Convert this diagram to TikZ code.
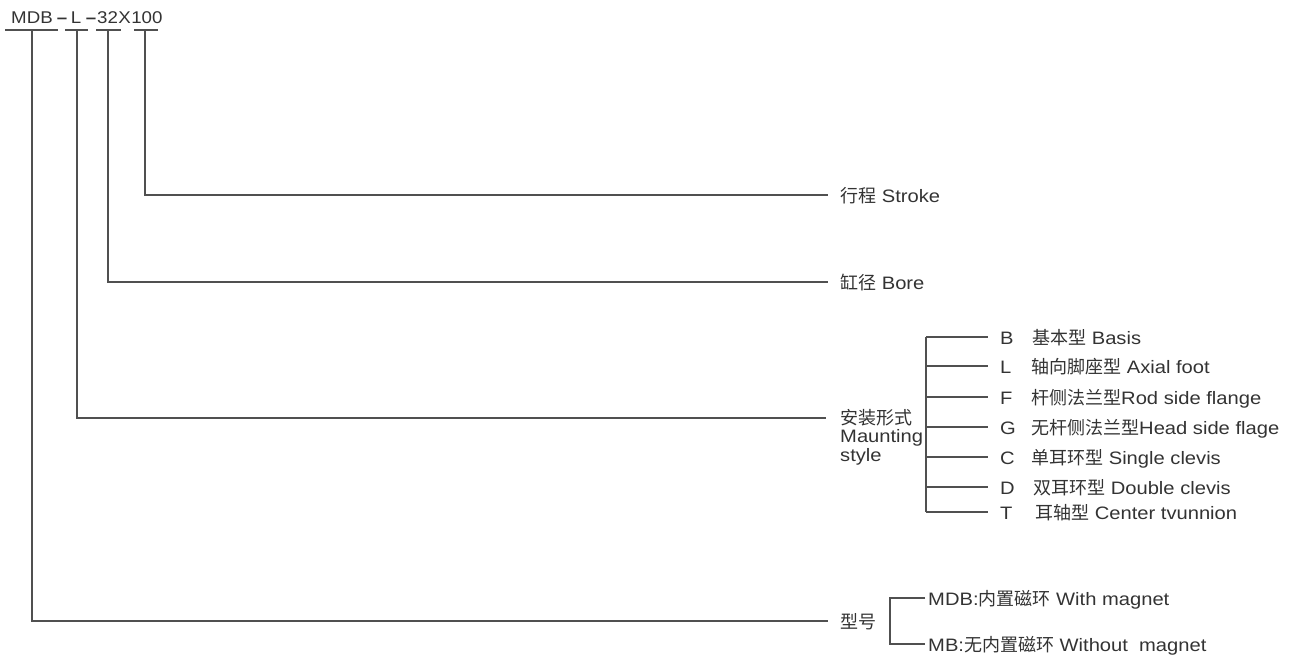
\documentclass[tikz,border=0pt]{standalone}
\usepackage{fontspec}
\setmainfont[FakeStretch=1.12]{Liberation Sans}
\newfontfamily\titlefont[FakeStretch=1.1]{Liberation Sans}
\newfontfamily\cjkfont{Noto Sans CJK SC}
\newcommand\zh[1]{{\cjkfont #1}}
\definecolor{txt}{HTML}{333333}
\definecolor{lnc}{HTML}{505050}
\begin{document}
\begin{tikzpicture}[x=1pt,y=-1pt,
  ln/.style={draw=lnc, line width=1.3pt},
  ttl/.style={anchor=base, inner sep=0pt, text=txt, font=\titlefont\fontsize{17}{17}\selectfont},
  lbl/.style={anchor=base west, inner sep=0pt, text=txt, font=\fontsize{18}{18}\selectfont},
  ml/.style={anchor=north west, inner sep=0pt, text=txt, align=left, font=\fontsize{18}{18.5}\selectfont}
]
\useasboundingbox (0,0) rectangle (1301,654);
% title
\node[ttl] (tm) at (32,23) {MDB};
\node[ttl] (d1) at (62,23) {\textbf{–}};
\node[ttl] (tl) at (76,23) {L};
\node[ttl] (d2) at (91,23) {\textbf{–}};
\node[ttl, anchor=base west] (tb) at (97,23) {32};
\node[ttl, anchor=base west] (tx) at (tb.base east) {X};
\node[ttl, anchor=base west] (ts) at (tx.base east) {100};
% underlines
\draw[ln] (5,30) -- (58,30);
\draw[ln] (65,30) -- (88,30);
\draw[ln] (96,30) -- (121,30);
\draw[ln] (134,30) -- (158,30);
\coordinate (u1) at (32,30);
\coordinate (u2) at (77,30);
\coordinate (u3) at (108,30);
\coordinate (u4) at (145,30);
% line ends
\coordinate (e4) at (828,195);
\coordinate (e3) at (828,282);
\coordinate (e2) at (826,418);
\coordinate (e1) at (828,621);
\draw[ln] (u4) |- (e4);
\draw[ln] (u3) |- (e3);
\draw[ln] (u2) |- (e2);
\draw[ln] (u1) |- (e1);
% labels
\node[lbl] (stroke) at (840,202) {\zh{行程} Stroke};
\node[lbl] (bore) at (840,289) {\zh{缸径} Bore};
\node[ml] (mount) at (840,409) {\zh{安装形式}\\Maunting\\style};
\node[lbl] (type) at (840,628) {\zh{型号}};
% mounting bracket
\coordinate (bt) at (926,337);
\coordinate (bb) at (926,512);
\draw[ln] (bt) -- (bb);
\foreach \n/\y/\l/\xx/\t in {
  mb/337/B/1032/{\zh{基本型} Basis},
  ml/366/L/1031/{\zh{轴向脚座型} Axial foot},
  mf/397/F/1031/{\zh{杆侧法兰型}Rod side flange},
  mg/427/G/1031/{\zh{无杆侧法兰型}Head side flage},
  mc/457/C/1031/{\zh{单耳环型} Single clevis},
  md/487/D/1033/{\zh{双耳环型} Double clevis},
  mt/512/T/1035/{\zh{耳轴型} Center tvunnion}} {
  \coordinate (\n s) at (926,\y);
  \coordinate (\n e) at (988,\y);
  \draw[ln] (\n s) -- (\n e);
  \node[lbl] (\n l) at (1000,\y+7) {\l};
  \node[lbl] (\n t) at (\xx,\y+7) {\t};
}
% type bracket
\coordinate (tt) at (890,598);
\coordinate (tbm) at (890,644);
\coordinate (tte) at (925,598);
\coordinate (tbe) at (925,644);
\draw[ln] (tte) -- (tt) -- (tbm) -- (tbe);
\node[lbl] (mdb) at (928,605) {MDB:\zh{内置磁环} With magnet};
\node[lbl] (mbn) at (928,651) {MB:\zh{无内置磁环} Without\ \ magnet};
\end{tikzpicture}
\end{document}
